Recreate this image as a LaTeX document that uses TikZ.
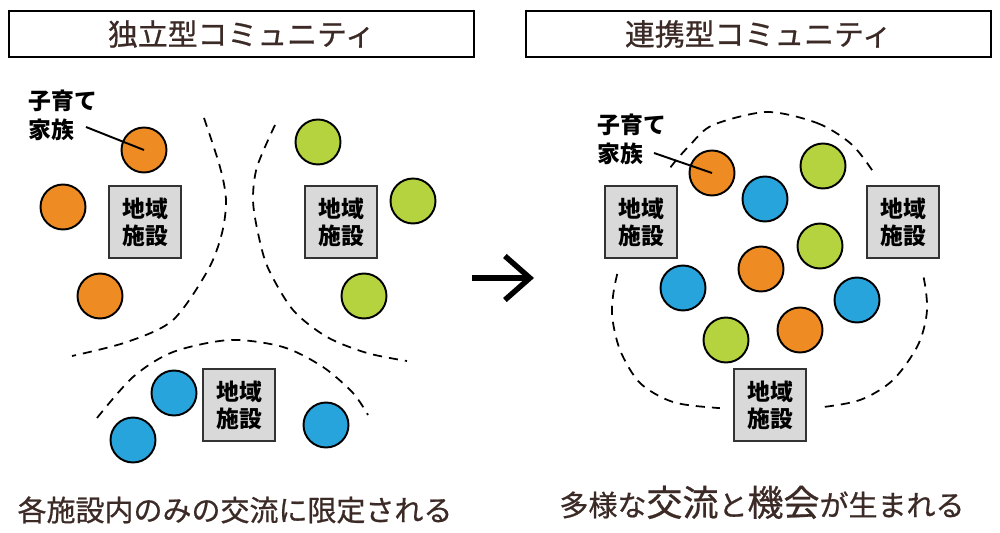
\documentclass[tikz,border=0pt]{standalone}
\usepackage{fontspec}
\setmainfont{Noto Sans CJK JP}
\newfontfamily\mediumjp[FakeBold=0.7]{Noto Sans CJK JP}
\usetikzlibrary{arrows.meta}
\definecolor{orangeC}{HTML}{EE8B22}
\definecolor{greenC}{HTML}{B5D33E}
\definecolor{blueC}{HTML}{28A4DC}
\definecolor{boxgray}{HTML}{D9D9D9}
\definecolor{textbrown}{HTML}{3B2A25}
\tikzset{
  family/.style={circle, draw=black, line width=1.1pt, minimum size=0.9cm, inner sep=0pt},
  facility/.style={draw=black!80, fill=boxgray, line width=1.1pt, minimum size=1.44cm, inner sep=0pt,
    align=center, font=\bfseries\fontsize{13}{15.4}\selectfont, preaction={draw=white, line width=16pt}},
  heading/.style={draw=black, line width=1.1pt, minimum width=9.3cm, minimum height=0.92cm,
    text=textbrown, font=\mediumjp\fontsize{17}{20}\selectfont},
  border/.style={line width=1pt, dash pattern=on 5.2pt off 4pt},
  tag/.style={align=left, inner sep=0pt, anchor=north west, font=\bfseries\fontsize{13}{16.5}\selectfont},
  summary/.style={anchor=base, text=textbrown, font=\mediumjp\fontsize{16.5}{20}\selectfont}
}
\newcommand{\bigword}[1]{{\fontsize{20.5}{24}\selectfont #1}}

\begin{document}
\begin{tikzpicture}[x=0.02cm, y=-0.02cm]
  \useasboundingbox (0,0) rectangle (1000,533);
  % left: independent communities
  \node[heading] (indep) at (241.5,34) {独立型コミュニティ};
  \draw[border] plot[smooth] coordinates {(204,118) (220,167) (226,200) (222,233) (208,270) (173,320) (127,342) (72,356)};
  \draw[border] plot[smooth] coordinates {(275,125) (257,167) (253,200) (258,233) (268,268) (293,310) (327,337) (367,353) (407,361)};
  \draw[border] plot[smooth] coordinates {(97,418) (133,377) (173,352) (230,340) (283,347) (323,367) (353,393) (368,415)};
  \node[facility] (facA) at (145,222) {地域\\施設};
  \node[facility] (facB) at (341,222) {地域\\施設};
  \node[facility] (facC) at (239,405) {地域\\施設};
  \node[family, fill=orangeC] (orA1) at (144,150) {};
  \node[family, fill=orangeC] (orA2) at (63,207) {};
  \node[family, fill=orangeC] (orA3) at (100,296) {};
  \node[family, fill=greenC] (grA1) at (318,142) {};
  \node[family, fill=greenC] (grA2) at (413,201) {};
  \node[family, fill=greenC] (grA3) at (364,296) {};
  \node[family, fill=blueC] (blA1) at (174,393) {};
  \node[family, fill=blueC] (blA2) at (133,440) {};
  \node[family, fill=blueC] (blA3) at (326,425) {};
  \node[tag] (kidsA) at (28,90) {子育て\\家族};
  \coordinate (kidsAend) at (86,127);
  \draw[line width=1.1pt] (kidsAend) -- (orA1.center);
  \node[summary] (sumA) at (235,521) {各施設内のみの交流に限定される};

  \coordinate (arrS) at (472,278);
  \coordinate (arrE) at (534,278);
  \draw[line width=3.1pt, -{Straight Barb[length=0.5cm, width=0.88cm]}] (arrS) -- (arrE);

  % right: linked community
  \node[heading] (linked) at (758.5,34) {連携型コミュニティ};
  \draw[border] plot[smooth cycle] coordinates {(767,112) (817,123) (850,143) (872,170) (905,222) (922,270) (927,310) (918,345) (893,380) (860,400) (815,408) (770,410) (718,408) (673,402) (640,383) (620,350) (612,313) (617,275) (635,222) (667,172) (690,145) (713,125)};
  \node[facility] (facL) at (641,222) {地域\\施設};
  \node[facility] (facR) at (903,222) {地域\\施設};
  \node[facility] (facM) at (770,405) {地域\\施設};
  \node[family, fill=orangeC] (orB1) at (712,173) {};
  \node[family, fill=blueC] (blB1) at (765,199) {};
  \node[family, fill=greenC] (grB1) at (823,166) {};
  \node[family, fill=greenC] (grB2) at (820,246) {};
  \node[family, fill=orangeC] (orB2) at (761,269) {};
  \node[family, fill=blueC] (blB2) at (683,288) {};
  \node[family, fill=blueC] (blB3) at (857,300) {};
  \node[family, fill=greenC] (grB3) at (726,340) {};
  \node[family, fill=orangeC] (orB3) at (800,330) {};
  \node[tag] (kidsB) at (597,114) {子育て\\家族};
  \coordinate (kidsBend) at (654,153);
  \draw[line width=1.1pt] (kidsBend) -- (orB1.center);
  \node[summary] (sumB) at (762,516) {多様な\bigword{交流}と\bigword{機会}が生まれる};
\end{tikzpicture}
\end{document}
